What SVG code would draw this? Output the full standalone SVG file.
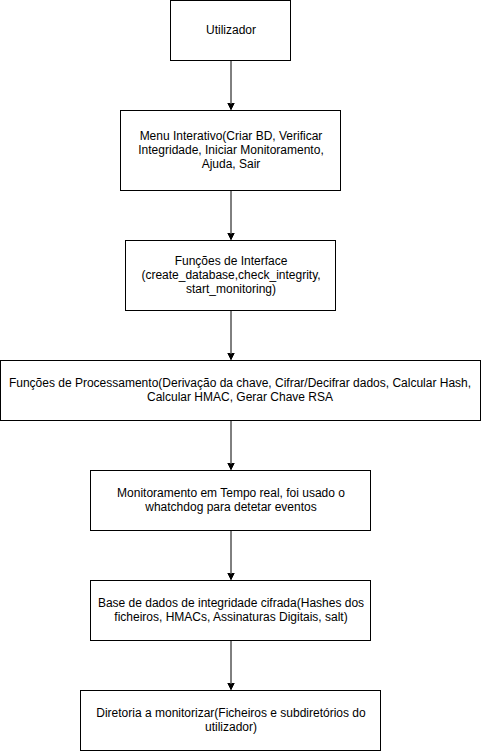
<svg xmlns="http://www.w3.org/2000/svg" width="481" height="751" viewBox="0 0 481 751">
<style>
.box{fill:#ffffff;stroke:#000000;stroke-width:1}
.lbl{font-family:"Liberation Sans",Arial,sans-serif;font-size:12px;fill:#000000;text-anchor:middle}
.edge{stroke:#000000;stroke-width:1;fill:none}
</style>
<defs>
<marker id="arr" markerWidth="8" markerHeight="8" refX="7" refY="4" orient="auto" markerUnits="userSpaceOnUse" viewBox="0 0 8 8">
<path d="M0,0.5 L7,4 L0,7.5 L1.75,4 Z" fill="#000000" stroke="#000000" stroke-width="1"/>
</marker>
</defs>
<rect width="481" height="751" fill="#ffffff"/>
<g id="connectors">
<path class="edge" d="M231,60.5 L231,109.5" marker-end="url(#arr)"/>
<path class="edge" d="M231,190.5 L231,239.5" marker-end="url(#arr)"/>
<path class="edge" d="M231,310.5 L231,359.5" marker-end="url(#arr)"/>
<path class="edge" d="M231,420.5 L231,469.5" marker-end="url(#arr)"/>
<path class="edge" d="M231,530.5 L231,579.5" marker-end="url(#arr)"/>
<path class="edge" d="M231,640.5 L231,689.5" marker-end="url(#arr)"/>
</g>
<g id="utilizador">
<rect class="box" x="170.5" y="0.5" width="120" height="60"/>
<text class="lbl" x="231" y="34">Utilizador</text>
</g>
<g id="menu">
<rect class="box" x="120.5" y="110.5" width="220" height="80"/>
<text class="lbl" x="231" y="140">Menu Interativo(Criar BD, Verificar</text>
<text class="lbl" x="231" y="154">Integridade, Iniciar Monitoramento,</text>
<text class="lbl" x="231" y="168">Ajuda, Sair</text>
</g>
<g id="interface">
<rect class="box" x="125.5" y="240.5" width="210" height="70"/>
<text class="lbl" x="231" y="265">Funções de Interface</text>
<text class="lbl" x="231" y="279">(create_database,check_integrity,</text>
<text class="lbl" x="231" y="293">start_monitoring)</text>
</g>
<g id="processamento">
<rect class="box" x="0.5" y="360.5" width="480" height="60"/>
<text class="lbl" x="240" y="387">Funções de Processamento(Derivação da chave, Cifrar/Decifrar dados, Calcular Hash,</text>
<text class="lbl" x="240" y="401">Calcular HMAC, Gerar Chave RSA</text>
</g>
<g id="monitoramento">
<rect class="box" x="90.5" y="470.5" width="280" height="60"/>
<text class="lbl" x="231" y="497">Monitoramento em Tempo real, foi usado o</text>
<text class="lbl" x="231" y="511">whatchdog para detetar eventos</text>
</g>
<g id="basedados">
<rect class="box" x="90.5" y="580.5" width="280" height="60"/>
<text class="lbl" x="231" y="607">Base de dados de integridade cifrada(Hashes dos</text>
<text class="lbl" x="231" y="621">ficheiros, HMACs, Assinaturas Digitais, salt)</text>
</g>
<g id="diretoria">
<rect class="box" x="80.5" y="690.5" width="300" height="60"/>
<text class="lbl" x="231" y="717">Diretoria a monitorizar(Ficheiros e subdiretórios do</text>
<text class="lbl" x="231" y="731">utilizador)</text>
</g>
</svg>
